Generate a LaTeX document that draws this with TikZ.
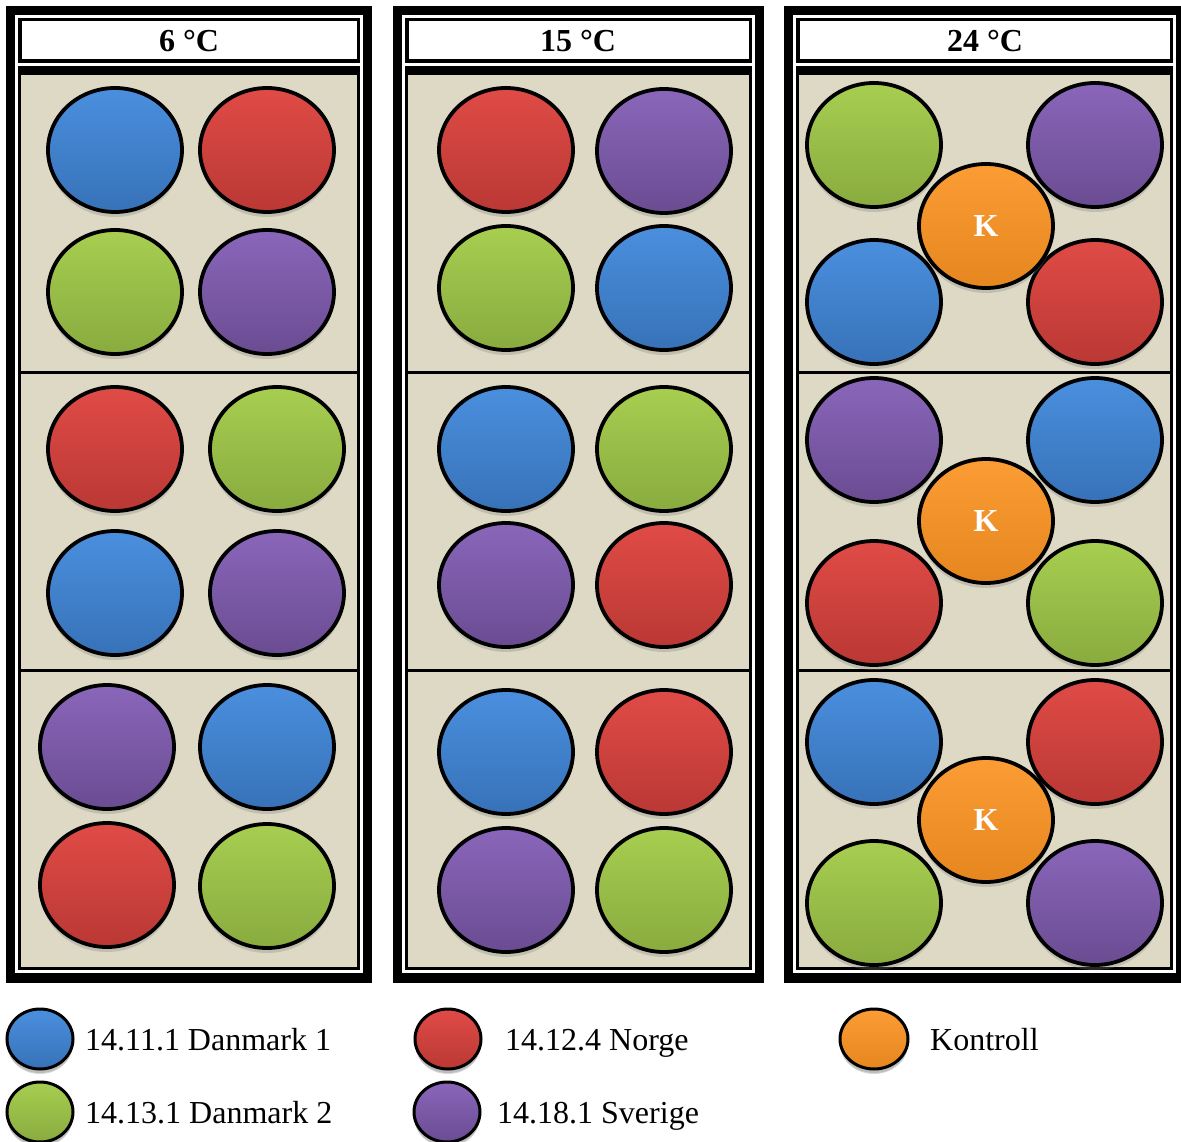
\documentclass[tikz,border=0pt]{standalone}
\usepackage{fontspec}
\setmainfont{Liberation Serif}
\usetikzlibrary{shapes.geometric,shadows}
\definecolor{tray}{HTML}{DDD9C4}
\definecolor{blueTop}{HTML}{4A8FDE}
\definecolor{blueBot}{HTML}{3772B8}
\definecolor{redTop}{HTML}{E04B46}
\definecolor{redBot}{HTML}{BA3834}
\definecolor{greenTop}{HTML}{A7CE50}
\definecolor{greenBot}{HTML}{89AB3F}
\definecolor{purpleTop}{HTML}{8A66BA}
\definecolor{purpleBot}{HTML}{6A4C92}
\definecolor{orangeTop}{HTML}{FC9C34}
\definecolor{orangeBot}{HTML}{E5861F}
\newcommand\panelfont{\fontsize{32}{38}\selectfont}

\begin{document}
\begin{tikzpicture}[x=1pt,y=-1pt,
  every node/.style={font=\panelfont,inner sep=0pt},
  ball/.style={ellipse,minimum width=134pt,minimum height=124pt,
    draw=black,line width=3.8pt,
    drop shadow={shadow xshift=0pt,shadow yshift=-5pt,opacity=.3}},
  chip/.style={ball,minimum width=66pt,minimum height=60pt,line width=3pt,
    drop shadow={shadow xshift=0pt,shadow yshift=-4pt,opacity=.3}},
  blueb/.style={top color=blueTop,bottom color=blueBot},
  redb/.style={top color=redTop,bottom color=redBot},
  greenb/.style={top color=greenTop,bottom color=greenBot},
  purpleb/.style={top color=purpleTop,bottom color=purpleBot},
  orangeb/.style={top color=orangeTop,bottom color=orangeBot,
    text=white,font=\panelfont\bfseries},
  heading/.style={font=\panelfont\bfseries},
  legend/.style={anchor=base west}]

\useasboundingbox[fill=white] (0,0) rectangle (1181,1142);

% frames: outer border, heading box, tray with three shelves
\foreach \xl/\xr/\id in {6/372/1,393/764/2,784/1185/3}{
  \fill[black] (\xl,6) rectangle (\xr,983);
  \fill[white] (\xl+9,15) rectangle (\xr-9,973);
  \draw[fill=white,line width=3.5pt] (\xl+13.75,19.75) rectangle (\xr-13.75,61.25);
  \fill[black] (\xl+12,66) rectangle (\xr-12,970);
  \fill[tray] (\xl+15,75) rectangle (\xr-15,967);
  \fill[black] (\xl+15,370.5) rectangle (\xr-15,373.5);
  \fill[black] (\xl+15,668.5) rectangle (\xr-15,671.5);
}

\node[heading] (t6) at (189,41) {6 °C};
\node[heading] (t15) at (578,41) {15 °C};
\node[heading] (t24) at (985,41) {24 °C};

% 6 °C
\node[ball,blueb] (a1) at (115,150) {};
\node[ball,redb] (a2) at (267,150) {};
\node[ball,greenb] (a3) at (115,292) {};
\node[ball,purpleb] (a4) at (267,292) {};
\node[ball,redb] (a5) at (115,449) {};
\node[ball,greenb] (a6) at (277,449) {};
\node[ball,blueb] (a7) at (115,593) {};
\node[ball,purpleb] (a8) at (277,593) {};
\node[ball,purpleb] (a9) at (107,747) {};
\node[ball,blueb] (a10) at (267,747) {};
\node[ball,redb] (a11) at (107,885) {};
\node[ball,greenb] (a12) at (267,886) {};

% 15 °C
\node[ball,redb] (b1) at (506,150) {};
\node[ball,purpleb] (b2) at (664,151) {};
\node[ball,greenb] (b3) at (506,288) {};
\node[ball,blueb] (b4) at (664,288) {};
\node[ball,blueb] (b5) at (506,449) {};
\node[ball,greenb] (b6) at (664,449) {};
\node[ball,purpleb] (b7) at (506,585) {};
\node[ball,redb] (b8) at (664,585) {};
\node[ball,blueb] (b9) at (506,752) {};
\node[ball,redb] (b10) at (664,752) {};
\node[ball,purpleb] (b11) at (506,890) {};
\node[ball,greenb] (b12) at (664,890) {};

% 24 °C, control in the middle of each shelf
\node[ball,greenb] (c1) at (874,145) {};
\node[ball,purpleb] (c2) at (1095,145) {};
\node[ball,blueb] (c3) at (874,302) {};
\node[ball,redb] (c4) at (1095,302) {};
\node[ball,orangeb] (k1) at (986,226) {K};
\node[ball,purpleb] (c5) at (874,440) {};
\node[ball,blueb] (c6) at (1095,440) {};
\node[ball,redb] (c7) at (874,603) {};
\node[ball,greenb] (c8) at (1095,603) {};
\node[ball,orangeb] (k2) at (986,521) {K};
\node[ball,blueb] (c9) at (874,742) {};
\node[ball,redb] (c10) at (1095,742) {};
\node[ball,greenb] (c11) at (874,903) {};
\node[ball,purpleb] (c12) at (1095,903) {};
\node[ball,orangeb] (k3) at (986,820) {K};

% legend
\node[chip,blueb] (l1) at (40,1039) {};
\node[chip,greenb] (l2) at (40,1112) {};
\node[chip,redb] (l3) at (448,1039) {};
\node[chip,purpleb] (l4) at (447,1112) {};
\node[chip,orangeb,minimum width=68pt] (l5) at (874,1039) {};
\node[legend] (n1) at (85,1050) {14.11.1 Danmark 1};
\node[legend] (n2) at (85,1123) {14.13.1 Danmark 2};
\node[legend] (n3) at (505,1050) {14.12.4 Norge};
\node[legend] (n4) at (497,1123) {14.18.1 Sverige};
\node[legend] (n5) at (930,1050) {Kontroll};
\end{tikzpicture}
\end{document}
